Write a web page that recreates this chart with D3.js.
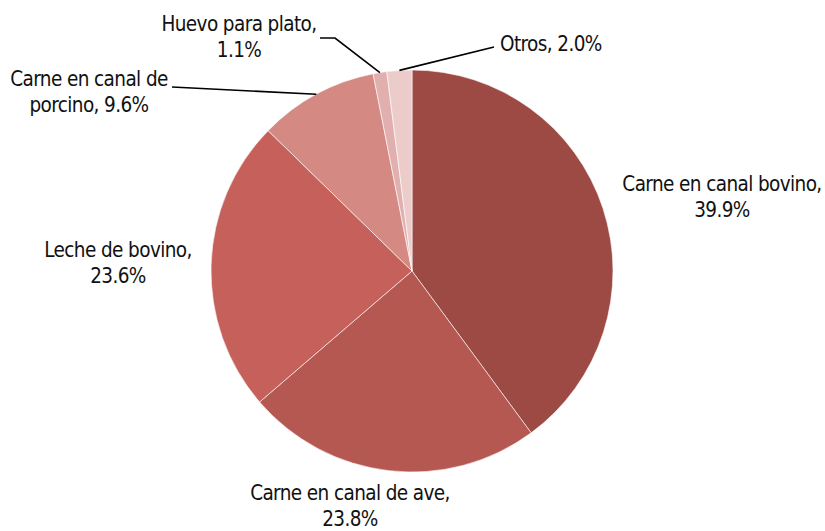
<!DOCTYPE html>
<html lang="es">
<head>
  <meta charset="UTF-8">
  <title>Participación por producto</title>
  <script src="https://d3js.org/d3.v7.min.js"></script>
  <style>
    body { margin: 0; background: #fff; }
    .lbl { font-family: "Liberation Sans Narrow", "DejaVu Sans Condensed", "Roboto", sans-serif; font-size: 20.5px; letter-spacing: -0.6px; fill: #111; }
    .leader { fill: none; stroke: #000; stroke-width: 1.6; }
  </style>
</head>
<body>
  <div id="chart"></div>
  <script>
    const categories = ["Carne en canal bovino", "Carne en canal de ave", "Leche de bovino", "Carne en canal de porcino", "Huevo para plato", "Otros"];
    const shares = [39.9, 23.8, 23.6, 9.6, 1.1, 2.0];
    const colors = ["#9d4a45", "#b55852", "#c5605a", "#d48983", "#e1b0ae", "#ebcccb"];
    // label text lines for each slice
    const labelLines = [
      ["Carne en canal bovino,", "39.9%"],
      ["Carne en canal de ave,", "23.8%"],
      ["Leche de bovino,", "23.6%"],
      ["Carne en canal de", "porcino, 9.6%"],
      ["Huevo para plato,", "1.1%"],
      ["Otros, 2.0%"]
    ];

    const width = 825, height = 531;
    const cx = 412, cy = 271, r = 201;

    const svg = d3.select("#chart").append("svg")
      .attr("width", width).attr("height", height);
    const g = svg.append("g").attr("transform", `translate(${cx},${cy})`);

    const dataset = categories.map((c, i) => ({ name: c, value: shares[i], color: colors[i], lines: labelLines[i] }));

    const pie = d3.pie().sort(null).value(d => d.value);
    const arc = d3.arc().innerRadius(0).outerRadius(r);
    const arcs = pie(dataset);

    g.selectAll("path.slice")
      .data(arcs)
      .enter().append("path")
      .attr("class", "slice")
      .attr("d", arc)
      .attr("fill", d => d.data.color)
      .attr("stroke", "#fff")
      .attr("stroke-width", 0.6);

    // label placement (relative to pie center)
    const labelPos = [
      { x: 310, y: -80, anchor: "middle" },
      { x: -62, y: 229, anchor: "middle" },
      { x: -294, y: -14, anchor: "middle" },
      { x: -323, y: -185, anchor: "middle", leader: [-240, -184] },
      { x: -173, y: -240, anchor: "middle", leader: [-92, -233], elbow: [-77, -233] },
      { x: 88, y: -220, anchor: "start", leader: [82, -224] }
    ];

    const edgePoint = d => {
      const a = (d.startAngle + d.endAngle) / 2;
      return [r * Math.sin(a), -r * Math.cos(a)];
    };

    arcs.forEach((d, i) => {
      const p = labelPos[i];
      if (p.leader) {
        const pts = [p.leader];
        if (p.elbow) pts.push(p.elbow);
        pts.push(edgePoint(d));
        g.append("path").attr("class", "leader")
          .attr("d", d3.line()(pts));
      }
      const t = g.append("text").attr("class", "lbl")
        .attr("text-anchor", p.anchor)
        .attr("x", p.x).attr("y", p.y);
      d.data.lines.forEach((ln, k) => {
        t.append("tspan").attr("x", p.x).attr("dy", k === 0 ? 0 : 26).text(ln);
      });
    });
  </script>
</body>
</html>
